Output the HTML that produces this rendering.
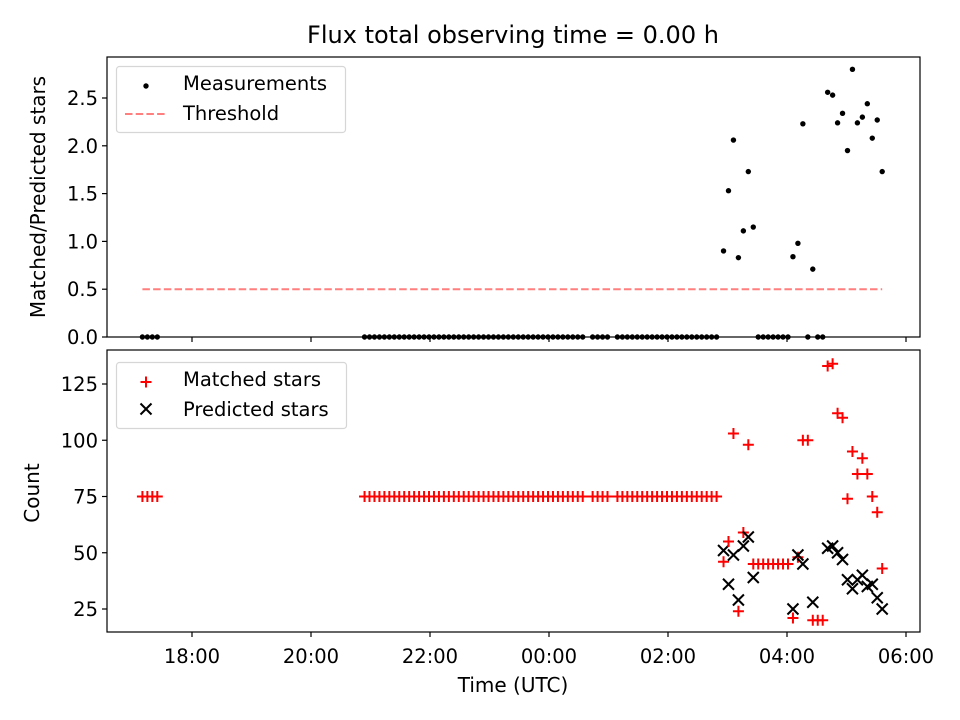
<!DOCTYPE html>
<html><head><meta charset="utf-8">
<style>
html,body{margin:0;padding:0;background:#fff;}
svg{display:block;font-family:"DejaVu Sans","Liberation Sans",sans-serif;}
</style></head>
<body>
<svg id="chart" width="960" height="720" viewBox="0 0 960 720" xmlns="http://www.w3.org/2000/svg">
<rect width="960" height="720" fill="#fff"/>
<text x="513" y="43" text-anchor="middle" font-size="24">Flux total observing time = 0.00 h</text>
<g id="topPanel"></g>
<g id="botPanel"></g>
<text x="513" y="692" text-anchor="middle" font-size="20">Time (UTC)</text>
<text transform="translate(45,197) rotate(-90)" text-anchor="middle" font-size="20">Matched/Predicted stars</text>
<text transform="translate(39,493) rotate(-90)" text-anchor="middle" font-size="20">Count</text>
</svg>
<script>
const times = ["17:10","17:15","17:20","17:25",
"20:54","20:59","21:04","21:09","21:14","21:19","21:24","21:29","21:34","21:39","21:44","21:49","21:54","21:59",
"22:04","22:09","22:14","22:19","22:24","22:29","22:34","22:39","22:44","22:49","22:54","22:59",
"23:04","23:09","23:14","23:19","23:24","23:29","23:34","23:39","23:44","23:49","23:54","23:59",
"00:04","00:09","00:14","00:19","00:24","00:29","00:34","00:44","00:49","00:54","00:59",
"01:09","01:14","01:19","01:24","01:29","01:34","01:39","01:44","01:49","01:54","01:59",
"02:04","02:09","02:14","02:19","02:24","02:29","02:34","02:39","02:44","02:49",
"02:56","03:01","03:06","03:11","03:16","03:21","03:26","03:31","03:36","03:41","03:46","03:51","03:56","04:01",
"04:06","04:11","04:16","04:21","04:26","04:31","04:36","04:41","04:46","04:51","04:56","05:01","05:06","05:11",
"05:16","05:21","05:26","05:31","05:36"];
const ratio = [0,0,0,0,
0,0,0,0,0,0,0,0,0,0,0,0,0,0, 0,0,0,0,0,0,0,0,0,0,0,0, 0,0,0,0,0,0,0,0,0,0,0,0,
0,0,0,0,0,0,0,0,0,0,0, 0,0,0,0,0,0,0,0,0,0,0, 0,0,0,0,0,0,0,0,0,0,
0.90,1.53,2.06,0.83,1.11,1.73,1.15,0,0,0,0,0,0,0,
0.84,0.98,2.23,0,0.71,0,0,2.56,2.53,2.24,2.34,1.95,2.80,2.24,
2.30,2.44,2.08,2.27,1.73];
const matched = [75,75,75,75,
75,75,75,75,75,75,75,75,75,75,75,75,75,75, 75,75,75,75,75,75,75,75,75,75,75,75, 75,75,75,75,75,75,75,75,75,75,75,75,
75,75,75,75,75,75,75,75,75,75,75, 75,75,75,75,75,75,75,75,75,75,75, 75,75,75,75,75,75,75,75,75,75,
46,55,103,24,59,98,45,45,45,45,45,45,45,45,
21,48,100,100,20,20,20,133,134,112,110,74,95,85,
92,85,75,68,43];
const predicted = [null,null,null,null,
null,null,null,null,null,null,null,null,null,null,null,null,null,null, null,null,null,null,null,null,null,null,null,null,null,null, null,null,null,null,null,null,null,null,null,null,null,null,
null,null,null,null,null,null,null,null,null,null,null, null,null,null,null,null,null,null,null,null,null,null, null,null,null,null,null,null,null,null,null,null,
51,36,49,29,53,57,39,null,null,null,null,null,null,null,
25,49,45,null,28,null,null,52,53,50,47,38,34,38,
40,35,36,30,25];
const threshold = 0.5;
const xTickLabels = ["18:00","20:00","22:00","00:00","02:00","04:00","06:00"];
const topYTicks = [0.0,0.5,1.0,1.5,2.0,2.5];
const botYTicks = [25,50,75,100,125];

const NS="http://www.w3.org/2000/svg";
const L=107,R=920,T1=57,B1=337,T2=350,B2=632;
function hrs(s){let [h,m]=s.split(':').map(Number);if(h<12)h+=24;return h+m/60;}
const X=h=>192+(h-18)*59.5;
const Y1=v=>337-v*95.6;
const Y2=v=>609-(v-25)*2.25;
function el(tag,attrs,parent,text){const e=document.createElementNS(NS,tag);for(const k in attrs)e.setAttribute(k,attrs[k]);if(text!==undefined)e.textContent=text;parent.appendChild(e);return e;}
const topG=document.getElementById('topPanel'), botG=document.getElementById('botPanel');

const tl=el('line',{x1:X(hrs(times[0])),x2:X(hrs(times[times.length-1])),y1:Y1(threshold),y2:Y1(threshold),stroke:'#ff7f7f','stroke-width':2,'stroke-dasharray':'7.5,3.2'},topG);


times.forEach((t,i)=>{
  const c=el('circle',{cx:X(hrs(t)),cy:Y1(ratio[i]),r:2.7,fill:'#000'},topG);
  
  
});
times.forEach((t,i)=>{
  const x=X(hrs(t)), y=Y2(matched[i]);
  const p=el('path',{d:`M${x-5.5},${y}H${x+5.5}M${x},${y-5.5}V${y+5.5}`,stroke:'#f00','stroke-width':2,fill:'none'},botG);
  
  
  if(predicted[i]!==null){
    const yp=Y2(predicted[i]);
    const q=el('path',{d:`M${x-5.5},${yp-5.5}L${x+5.5},${yp+5.5}M${x-5.5},${yp+5.5}L${x+5.5},${yp-5.5}`,stroke:'#000','stroke-width':2,fill:'none'},botG);
    
    
  }
});
[[T1,B1,topG],[T2,B2,botG]].forEach(([t,b,g])=>{
  const f=el('rect',{x:L,y:t,width:R-L,height:b-t,fill:'none',stroke:'#000','stroke-width':1.2},g);
  
  
  xTickLabels.forEach(s=>{
    const x=X(hrs(s));
    el('line',{x1:x,x2:x,y1:b,y2:b+5,stroke:'#000','stroke-width':1.2},g);
  });
});
xTickLabels.forEach(s=>{
  const tx=el('text',{x:X(hrs(s)),y:663,'text-anchor':'middle','font-size':19.5},botG,s);
  
  
});
topYTicks.forEach(v=>{
  const y=Y1(v);
  el('line',{x1:L-5,x2:L,y1:y,y2:y,stroke:'#000','stroke-width':1.2},topG);
  const tx=el('text',{x:L-9,y:y+7,'text-anchor':'end','font-size':19.5},topG,v.toFixed(1));
  
  
});
botYTicks.forEach(v=>{
  const y=Y2(v);
  el('line',{x1:L-5,x2:L,y1:y,y2:y,stroke:'#000','stroke-width':1.2},botG);
  const tx=el('text',{x:L-9,y:y+7,'text-anchor':'end','font-size':19.5},botG,String(v));
  
  
});
const lg1=el('g',{},topG);


el('rect',{x:116.5,y:66.5,width:229,height:66,rx:3,fill:'#fff','fill-opacity':0.8,stroke:'#d6d6d6','stroke-width':1.2},lg1);
el('circle',{cx:146,cy:86,r:2.7,fill:'#000'},lg1);
el('text',{x:183,y:90,'font-size':19.5},lg1,'Measurements');
el('line',{x1:125,x2:167,y1:114,y2:114,stroke:'#ff7f7f','stroke-width':2,'stroke-dasharray':'7.5,3.2'},lg1);
el('text',{x:183,y:120,'font-size':19.5},lg1,'Threshold');
const lg2=el('g',{},botG);


el('rect',{x:116.5,y:362.5,width:230,height:66,rx:3,fill:'#fff','fill-opacity':0.8,stroke:'#d6d6d6','stroke-width':1.2},lg2);
el('path',{d:'M140.5,382H151.5M146,376.5V387.5',stroke:'#f00','stroke-width':2},lg2);
el('text',{x:183,y:386,'font-size':19.5},lg2,'Matched stars');
el('path',{d:'M140.5,403.5L151.5,414.5M140.5,414.5L151.5,403.5',stroke:'#000','stroke-width':2},lg2);
el('text',{x:183,y:416,'font-size':19.5},lg2,'Predicted stars');
</script>
</body></html>
